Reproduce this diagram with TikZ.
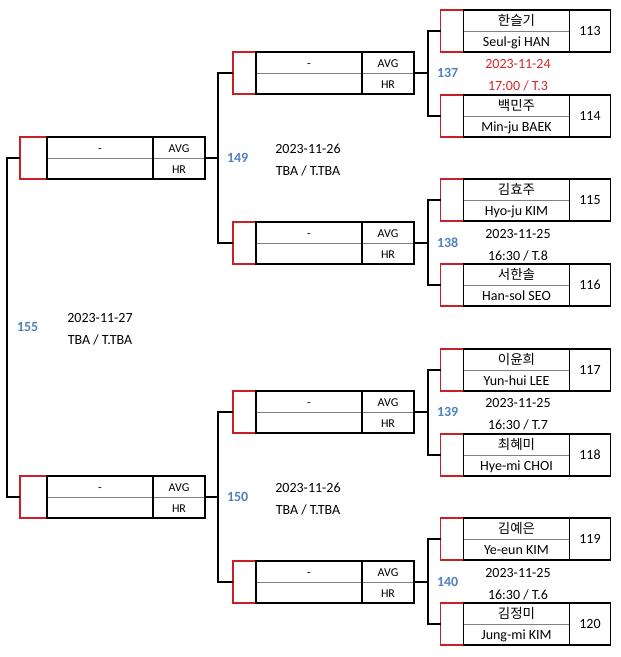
\documentclass[tikz,border=0pt]{standalone}
\usepackage{fontspec}
\setmainfont{Carlito}
\newfontfamily\kor{Noto Sans CJK KR}
\usetikzlibrary{positioning}
\definecolor{boxred}{RGB}{200,32,38}
\definecolor{datered}{RGB}{214,38,42}
\definecolor{numblue}{RGB}{79,129,189}

\begin{document}
\begin{tikzpicture}
  [x=1pt,y=-1pt,line width=1.6pt,
   every node/.style={inner sep=0pt,outer sep=0pt,font=\fontsize{14}{22}\selectfont},
   txt/.style={text height=9pt,text depth=0pt},
   small/.style={txt,font=\fontsize{12}{14}\selectfont},
   korean/.style={txt,font=\kor\fontsize{13.5}{16}\selectfont},
   redbox/.style={draw=boxred,minimum width=23pt,minimum height=42pt},
   namebox/.style={draw,minimum width=106pt,minimum height=42pt},
   numbox/.style={draw,txt,minimum width=41pt,minimum height=42pt},
   avgbox/.style={draw,minimum width=52pt,minimum height=42pt},
   midline/.style={draw=gray,line width=1pt,shorten <=0.8pt,shorten >=0.8pt},
   matchno/.style={txt,text=numblue,font=\fontsize{14}{16}\bfseries},
   datetxt/.style={align=center}]
  \useasboundingbox (0,0) rectangle (621,657);

  \foreach \n/\y/\kn/\en in {113/31/한슬기/Seul-gi HAN,114/116/백민주/Min-ju BAEK,
    115/200/김효주/Hyo-ju KIM,116/285/서한솔/Han-sol SEO,117/370/이윤희/Yun-hui LEE,
    118/455/최혜미/Hye-mi CHOI,119/539/김예은/Ye-eun KIM,120/624/김정미/Jung-mi KIM}
  {
    \node[redbox] (r\n) at (452,\y) {};
    \node[namebox,right=0pt of r\n] (b\n) {};
    \node[numbox,right=0pt of b\n] (n\n) {\n};
    \draw[midline] (b\n.west) -- (b\n.east);
    \node[korean] at ([yshift=10.5pt]b\n.center) {\kn};
    \node[txt] at ([yshift=-10.5pt]b\n.center) {\en};
  }

  \foreach \m/\x/\y/\rw in {137/244.5/73/23,138/244.5/243/23,139/244.5/412/23,
    140/244.5/582/23,149/33.5/158/27,150/33.5/497/27}
  {
    \node[redbox,minimum width=\rw] (r\m) at (\x,\y) {};
    \node[namebox,right=0pt of r\m] (b\m) {};
    \node[avgbox,right=0pt of b\m] (h\m) {};
    \draw[midline] (b\m.west) -- (b\m.east);
    \draw[midline] (h\m.west) -- (h\m.east);
    \node[small] at ([yshift=10.5pt]b\m.center) {-};
    \node[small] at ([yshift=10.5pt]h\m.center) {AVG};
    \node[small] at ([yshift=-10.5pt]h\m.center) {HR};
  }

  \foreach \m/\a/\b/\x/\y/\dd/\hh/\tb/\dc in {137/113/114/428/73/24/17:00/3/datered,
    138/115/116/428/243/25/16:30/8/black,139/117/118/428/412/25/16:30/7/black,
    140/119/120/428/582/25/16:30/6/black,149/137/138/218/158/26/TBA/TBA/black,
    150/139/140/218/497/26/TBA/TBA/black}
  {
    \coordinate (c\m) at (\x,\y);
    \draw (r\a.west) -| (c\m) |- (r\b.west);
    \draw (h\m.east) -- (c\m);
    \node[matchno,right=9pt of c\m] (l\m) {\m};
    \node[datetxt,text=\dc] (d\m) at (\x+90,\y+2) {2023-11-\dd\\\hh{} / T.\tb};
  }

  \coordinate (c155) at (7,327);
  \draw (r149.west) -| (c155) |- (r150.west);
  \node[matchno,right=10pt of c155] (l155) {155};
  \node[datetxt] (d155) at (100,329) {2023-11-27\\TBA / T.TBA};
\end{tikzpicture}
\end{document}
